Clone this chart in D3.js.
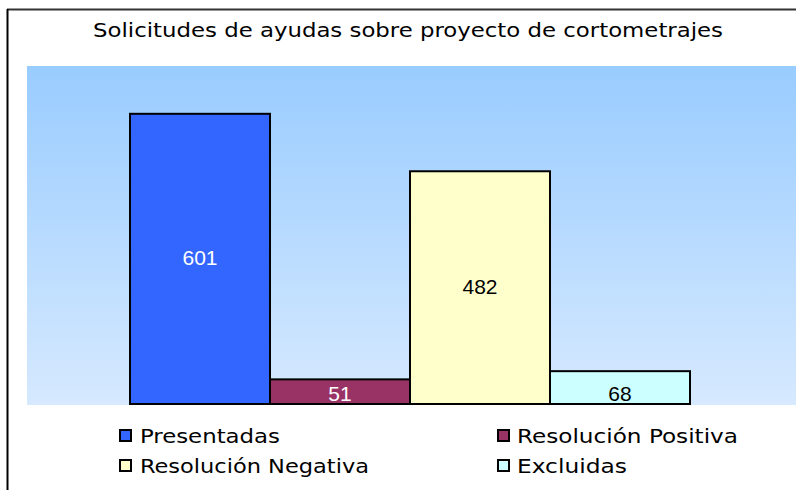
<!DOCTYPE html>
<html><head><meta charset="utf-8">
<script src="https://cdn.jsdelivr.net/npm/d3@7/dist/d3.min.js"></script>
<style>html,body{margin:0;padding:0;background:#fff;}svg{display:block;}</style>
</head><body>
<div id="chart"></div>
<script>
const title = "Solicitudes de ayudas sobre proyecto de cortometrajes";
const categories = ["Presentadas", "Resolución Positiva", "Resolución Negativa", "Excluidas"];
const values = [601, 51, 482, 68];
const colors = ["#3366ff", "#993366", "#ffffcc", "#ccffff"];
const labelColors = ["#ffffff", "#ffffff", "#000000", "#000000"];
const yDomain = [0, 700];

const W = 796, H = 490;
const svg = d3.select("#chart").append("svg").attr("width", W).attr("height", H);

const defs = svg.append("defs");
const grad = defs.append("linearGradient").attr("id", "bg").attr("x1", 0).attr("y1", 0).attr("x2", 0).attr("y2", 1);
grad.append("stop").attr("offset", "0%").attr("stop-color", "#99ccff");
grad.append("stop").attr("offset", "100%").attr("stop-color", "#d6e9ff");

const plot = {left: 27, right: 796, top: 66, bottom: 404};
const textFont = "DejaVu Sans Condensed, DejaVu Sans, sans-serif";

// outer frame (top and left only visible)
svg.append("line").attr("x1", 7).attr("x2", W).attr("y1", 9.5).attr("y2", 9.5).attr("stroke", "#333").attr("stroke-width", 2);
svg.append("line").attr("x1", 7.5).attr("x2", 7.5).attr("y1", 9).attr("y2", H).attr("stroke", "#000").attr("stroke-width", 2);

svg.append("rect").attr("x", plot.left).attr("y", plot.top)
  .attr("width", plot.right - plot.left).attr("height", plot.bottom - plot.top + 1)
  .attr("fill", "url(#bg)");

svg.append("text").attr("x", 408).attr("y", 37).attr("text-anchor", "middle")
  .attr("font-family", textFont).attr("font-size", 19)
  .attr("textLength", 630).attr("lengthAdjust", "spacingAndGlyphs")
  .attr("fill", "#000").text(title);

const x = d3.scaleBand().domain(categories).range([130, 690]).padding(0);
const y = d3.scaleLinear().domain(yDomain).range([plot.bottom, plot.top]);

const g = svg.append("g");
g.selectAll("rect.bar").data(categories).join("rect").attr("class", "bar")
  .attr("x", d => x(d)).attr("width", x.bandwidth())
  .attr("y", (d, i) => y(values[i])).attr("height", (d, i) => y(0) - y(values[i]))
  .attr("fill", (d, i) => colors[i]).attr("stroke", "#000").attr("stroke-width", 2);

g.selectAll("text.lbl").data(categories).join("text").attr("class", "lbl")
  .attr("x", d => x(d) + x.bandwidth() / 2)
  .attr("y", (d, i) => (y(0) - y(values[i]) < 40) ? plot.bottom - 3 : (y(values[i]) + y(0)) / 2 + 6)
  .attr("text-anchor", "middle").attr("font-family", "Liberation Sans, Arial").attr("font-size", 21)
  .attr("fill", (d, i) => labelColors[i]).text((d, i) => values[i]);

// legend
const legPos = [[120, 436, 140, 140], [498, 436, 517, 221], [120, 466, 140, 229], [498, 466, 517, 110]];
const leg = svg.append("g");
categories.forEach((c, i) => {
  const [mx, my, tx, tl] = legPos[i];
  leg.append("rect").attr("x", mx).attr("y", my - 6).attr("width", 11).attr("height", 11)
    .attr("fill", colors[i]).attr("stroke", "#000").attr("stroke-width", 2);
  leg.append("text").attr("x", tx).attr("y", my + 7).attr("font-family", textFont).attr("font-size", 19)
    .attr("textLength", tl).attr("lengthAdjust", "spacingAndGlyphs").attr("fill", "#000").text(c);
});
</script>
</body></html>
